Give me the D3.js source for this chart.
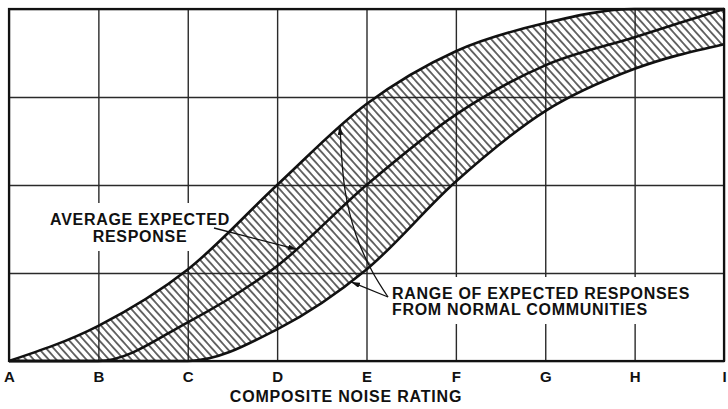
<!DOCTYPE html>
<html>
<head>
<meta charset="utf-8">
<script src="https://cdn.jsdelivr.net/npm/d3@7"></script>
<style>
  html, body { margin: 0; padding: 0; background: #fff; }
  svg { display: block; }
  text { font-family: "Liberation Sans", Arial, sans-serif; font-weight: bold; fill: #111; }
</style>
</head>
<body>
<svg id="chart" width="728" height="409"></svg>
<script>
// Composite noise rating categories along the x axis
const ratings = ["A", "B", "C", "D", "E", "F", "G", "H", "I"];
// Community response (percent of the full scale) for each rating
const upperBound      = [0, 10, 26, 50, 73, 88, 96, 100, 100];
const averageResponse = [0, 0, 11, 27, 50, 70, 84, 92, 100];
const lowerBound      = [0, 0, 0, 9, 26, 51, 71, 83, 90];
// Horizontal grid levels
const responseLevels = [0, 25, 50, 75, 100];

const svg = d3.select("#chart");
const plot = { left: 9, right: 724, top: 9, bottom: 361 };

const x = d3.scalePoint().domain(ratings).range([plot.left, plot.right]);
const y = d3.scaleLinear().domain([0, 100]).range([plot.bottom, plot.top]);

const rows = ratings.map((r, i) => ({
  r, hi: upperBound[i], mid: averageResponse[i], lo: lowerBound[i]
}));

// ---- defs: hatch pattern and arrowhead
const defs = svg.append("defs");
const pat = defs.append("pattern")
  .attr("id", "hatch")
  .attr("patternUnits", "userSpaceOnUse")
  .attr("width", 5.6).attr("height", 10)
  .attr("patternTransform", "rotate(-42)");
pat.append("line")
  .attr("x1", 2.8).attr("y1", -1).attr("x2", 2.8).attr("y2", 11)
  .attr("stroke", "#1c1c1c").attr("stroke-width", 1.3);

defs.append("marker")
  .attr("id", "arrow")
  .attr("markerUnits", "userSpaceOnUse")
  .attr("viewBox", "0 0 10 6")
  .attr("refX", 10).attr("refY", 3)
  .attr("markerWidth", 9).attr("markerHeight", 5.4)
  .attr("orient", "auto")
  .append("path").attr("d", "M0,0 L10,3 L0,6 Z").attr("fill", "#111");

// ---- grid (vertical lines and rating letters from the bottom axis)
const xAxis = d3.axisBottom(x)
  .tickSize(-(plot.bottom - plot.top))
  .tickPadding(10);
const gx = svg.append("g")
  .attr("transform", `translate(0,${plot.bottom})`)
  .call(xAxis);
gx.select(".domain").remove();
gx.selectAll(".tick line").attr("stroke", "#2a2a2a").attr("stroke-width", 1.4);
gx.selectAll(".tick text")
  .attr("font-size", 15)
  .style("font-family", '"Liberation Sans", Arial, sans-serif')
  .style("font-weight", "bold")
  .attr("fill", "#111");

const yAxis = d3.axisLeft(y)
  .tickValues(responseLevels)
  .tickSize(-(plot.right - plot.left))
  .tickFormat("");
const gy = svg.append("g")
  .attr("transform", `translate(${plot.left},0)`)
  .call(yAxis);
gy.select(".domain").remove();
gy.selectAll(".tick line").attr("stroke", "#2a2a2a").attr("stroke-width", 1.4);

// ---- annotation text blocks (white backing knocks out the grid behind them)
const knockLayer = svg.append("g");
const bandLayer = svg.append("g");
const lineLayer = svg.append("g");
const noteLayer = svg.append("g");

function textBlock(lines, xPos, baselines, anchor) {
  const g = noteLayer.append("g");
  lines.forEach((t, i) => {
    g.append("text")
      .attr("x", xPos).attr("y", baselines[i])
      .attr("text-anchor", anchor)
      .attr("font-size", 16)
      .style("letter-spacing", "0.7px")
      .text(t);
  });
  const b = g.node().getBBox();
  knockLayer.append("rect")
    .attr("x", b.x - 8).attr("y", b.y - 8)
    .attr("width", b.width + 16).attr("height", b.height + 14)
    .attr("fill", "#fff");
  return g;
}

textBlock(["AVERAGE EXPECTED", "RESPONSE"], 140, [225, 242], "middle");
textBlock(["RANGE OF EXPECTED RESPONSES", "FROM NORMAL COMMUNITIES"], 392, [299, 315], "start");

// ---- hatched range band
const band = d3.area()
  .x(d => x(d.r))
  .y0(d => y(d.lo))
  .y1(d => y(d.hi))
  .curve(d3.curveMonotoneX);
bandLayer.append("path")
  .datum(rows)
  .attr("d", band)
  .attr("fill", "url(#hatch)");

// ---- the three curves
function curve(key) {
  return lineLayer.append("path")
    .datum(rows)
    .attr("d", d3.line().x(d => x(d.r)).y(d => y(d[key])).curve(d3.curveMonotoneX))
    .attr("fill", "none")
    .attr("stroke", "#111")
    .attr("stroke-width", 2.6)
    .attr("stroke-linejoin", "round");
}
const upperPath = curve("hi");
const midPath = curve("mid");
const lowerPath = curve("lo");

// ---- plot frame
svg.append("rect")
  .attr("x", plot.left).attr("y", plot.top)
  .attr("width", plot.right - plot.left)
  .attr("height", plot.bottom - plot.top)
  .attr("fill", "none")
  .attr("stroke", "#111")
  .attr("stroke-width", 2.2);

// find the point on a curve at a given horizontal position
function pointAtX(path, xt) {
  const node = path.node();
  let lo = 0, hi = node.getTotalLength();
  for (let k = 0; k < 40; k++) {
    const m = (lo + hi) / 2;
    if (node.getPointAtLength(m).x < xt) lo = m; else hi = m;
  }
  const p = node.getPointAtLength((lo + hi) / 2);
  return [p.x, p.y];
}

// ---- leader lines with arrowheads
function leader(points) {
  noteLayer.append("path")
    .attr("d", d3.line().curve(d3.curveCatmullRom)(points))
    .attr("fill", "none")
    .attr("stroke", "#111")
    .attr("stroke-width", 1.3)
    .attr("marker-end", "url(#arrow)");
}

const midTip = pointAtX(midPath, 297);
leader([[214, 228], midTip]);

const upTip = pointAtX(upperPath, 340);
leader([[388, 297], [372, 271], [356, 235], [345, 190], upTip]);

const lowTip = pointAtX(lowerPath, 351);
leader([[388, 297], lowTip]);

// ---- axis title
svg.append("text")
  .attr("x", 346).attr("y", 402)
  .attr("text-anchor", "middle")
  .attr("font-size", 16)
  .style("letter-spacing", "0.8px")
  .text("COMPOSITE NOISE RATING");
</script>
</body>
</html>
